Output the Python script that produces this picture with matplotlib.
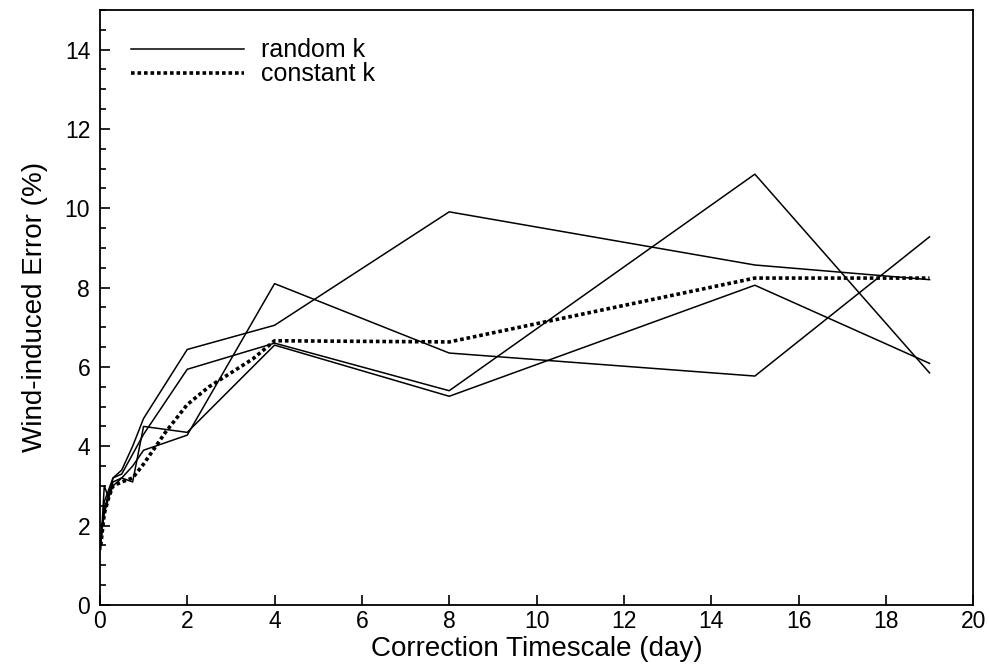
"""Wind-induced error vs correction timescale: random k runs vs constant k."""

import matplotlib

matplotlib.use("Agg")
import matplotlib.pyplot as plt
from matplotlib.ticker import MultipleLocator

plt.rcParams["font.family"] = ["Liberation Sans", "DejaVu Sans"]

# correction timescale (day) shared by the random-k runs
timescale = [0.02, 0.1, 0.2, 0.3, 0.5, 0.75, 1, 2, 4, 8, 15, 19]

# four random-k realisations, error in %
random_k_a = [1.4, 3.0, 2.7, 3.2, 3.3, 3.8, 4.3, 5.94, 6.6, 5.40, 10.86, 5.85]
random_k_b = [1.5, 2.6, 2.9, 3.2, 3.4, 4.0, 4.7, 6.44, 7.05, 9.91, 8.57, 8.2]
random_k_c = [1.6, 2.4, 2.8, 3.1, 3.2, 3.1, 4.5, 4.35, 6.55, 5.26, 8.06, 6.09]
random_k_d = [1.7, 2.3, 2.7, 3.0, 3.2, 3.5, 3.9, 4.28, 8.10, 6.35, 5.77, 9.28]

# constant k run
const_t = [0.02, 0.1, 0.2, 0.3, 0.5, 0.75, 1, 1.5, 2, 2.5, 3, 3.5, 4, 8, 15, 19]
const_k = [1.5, 2.3, 2.7, 3.0, 3.1, 3.2, 3.55, 4.35, 5.05, 5.5, 5.85, 6.2, 6.66, 6.63, 8.24, 8.24]

fig = plt.figure(figsize=(9.89, 6.64), dpi=100)
ax = fig.add_axes([0.101, 0.089, 0.883, 0.896])

for i, series in enumerate([random_k_a, random_k_b, random_k_c, random_k_d]):
    ax.plot(timescale, series, color="black", lw=1.1,
            label="random k" if i == 0 else None)
ax.plot(const_t, const_k, color="black", lw=2.6, linestyle=(0, (1, 0.8)),
        label="constant k")

ax.set_xlim(0, 20)
ax.set_ylim(0, 15)
ax.xaxis.set_major_locator(MultipleLocator(2))
ax.yaxis.set_major_locator(MultipleLocator(2))
ax.yaxis.set_minor_locator(MultipleLocator(0.5))
ax.tick_params(which="both", direction="in", labelsize=16.5, width=1.2)
ax.tick_params(which="major", length=7)
ax.tick_params(which="minor", length=4)
ax.tick_params(axis="x", pad=4)
ax.tick_params(axis="y", pad=7)
for side in ax.spines.values():
    side.set_linewidth(1.3)

ax.set_xlabel("Correction Timescale (day)", fontsize=20, labelpad=2)
ax.set_ylabel("Wind-induced Error (%)", fontsize=20, labelpad=12)

ax.legend(loc="upper left", frameon=False, fontsize=18, handlelength=4.5,
          handletextpad=0.7, labelspacing=0.0, borderaxespad=0.5,
          bbox_to_anchor=(0.01, 0.99))

fig.savefig("out.png", dpi=100)
